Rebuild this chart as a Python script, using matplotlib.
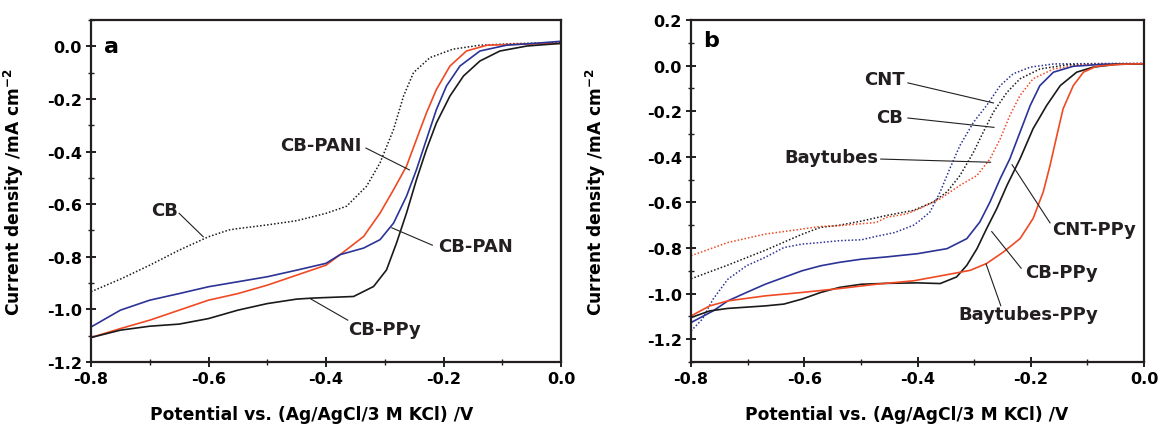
import matplotlib
matplotlib.use("Agg")
import matplotlib.pyplot as plt
from matplotlib.ticker import MultipleLocator, FormatStrFormatter

plt.rcParams["font.family"] = ["DejaVu Sans"]
plt.rcParams["font.weight"] = "bold"
plt.rcParams["mathtext.fontset"] = "dejavusans"
plt.rcParams["mathtext.default"] = "bf"

RED  = "#ef4a24"
BLUE = "#2b3396"
BLK  = "#1a1a1a"

# ── panel a ────────────────────────────────────────────────────────────────────
a_cb_x = [-0.80, -0.748, -0.70, -0.65, -0.60, -0.565, -0.55, -0.50, -0.478, -0.45,
          -0.40, -0.365, -0.331, -0.308, -0.285, -0.268, -0.251, -0.223, -0.184,
          -0.138, -0.08, 0.0]
a_cb_y = [-0.933, -0.883, -0.832, -0.775, -0.724, -0.698, -0.693, -0.679, -0.672,
          -0.663, -0.635, -0.608, -0.532, -0.443, -0.316, -0.189, -0.100, -0.043,
          -0.011, 0.004, 0.010, 0.014]

a_pani_x = [-0.80, -0.75, -0.70, -0.65, -0.60, -0.55, -0.50, -0.45, -0.40, -0.376,
            -0.336, -0.308, -0.285, -0.263, -0.246, -0.229, -0.212, -0.189, -0.161,
            -0.126, -0.07, 0.0]
a_pani_y = [-1.107, -1.073, -1.041, -1.003, -0.965, -0.940, -0.908, -0.870, -0.832,
            -0.792, -0.723, -0.634, -0.545, -0.456, -0.354, -0.253, -0.164, -0.075,
            -0.018, 0.004, 0.008, 0.011]

a_pan_x = [-0.80, -0.75, -0.70, -0.65, -0.60, -0.55, -0.50, -0.45, -0.40, -0.376,
           -0.336, -0.308, -0.285, -0.263, -0.246, -0.229, -0.212, -0.195, -0.172,
           -0.138, -0.093, -0.04, 0.0]
a_pan_y = [-1.067, -1.003, -0.965, -0.940, -0.914, -0.895, -0.876, -0.851, -0.825,
           -0.792, -0.767, -0.735, -0.672, -0.570, -0.469, -0.354, -0.240, -0.151,
           -0.075, -0.018, 0.004, 0.012, 0.019]

a_ppy_x = [-0.80, -0.75, -0.70, -0.65, -0.60, -0.55, -0.50, -0.45, -0.422, -0.353,
           -0.319, -0.297, -0.280, -0.263, -0.246, -0.229, -0.212, -0.189, -0.166,
           -0.138, -0.104, -0.058, 0.0]
a_ppy_y = [-1.107, -1.079, -1.064, -1.056, -1.035, -1.003, -0.978, -0.961, -0.957,
           -0.951, -0.913, -0.850, -0.748, -0.634, -0.507, -0.392, -0.291, -0.189,
           -0.113, -0.056, -0.018, 0.001, 0.011]

# ── panel b ────────────────────────────────────────────────────────────────────
b_cnt_x = [-0.80, -0.78, -0.761, -0.735, -0.702, -0.669, -0.636, -0.604, -0.571,
           -0.538, -0.499, -0.473, -0.44, -0.407, -0.396, -0.378, -0.36, -0.343,
           -0.325, -0.301, -0.278, -0.254, -0.231, -0.201, -0.16, -0.08, 0.0]
b_cnt_y = [-1.164, -1.112, -1.024, -0.937, -0.878, -0.841, -0.798, -0.783, -0.776,
           -0.768, -0.764, -0.749, -0.732, -0.700, -0.680, -0.642, -0.554, -0.452,
           -0.350, -0.248, -0.175, -0.088, -0.036, -0.007, 0.007, 0.009, 0.010]

b_cb_x = [-0.80, -0.735, -0.669, -0.604, -0.572, -0.538, -0.499, -0.454, -0.407,
          -0.372, -0.348, -0.325, -0.301, -0.284, -0.266, -0.242, -0.219, -0.184,
          -0.137, -0.07, 0.0]
b_cb_y = [-0.935, -0.875, -0.810, -0.740, -0.710, -0.700, -0.682, -0.657, -0.635,
          -0.598, -0.554, -0.482, -0.379, -0.292, -0.204, -0.117, -0.058, -0.015,
          0.003, 0.007, 0.008]

b_bay_x = [-0.80, -0.735, -0.669, -0.604, -0.572, -0.538, -0.473, -0.454, -0.42,
           -0.396, -0.36, -0.325, -0.295, -0.272, -0.254, -0.237, -0.219, -0.196,
           -0.16, -0.113, -0.06, 0.0]
b_bay_y = [-0.834, -0.776, -0.739, -0.717, -0.706, -0.702, -0.688, -0.665, -0.651,
           -0.627, -0.584, -0.525, -0.482, -0.409, -0.321, -0.219, -0.131, -0.058,
           -0.015, 0.003, 0.007, 0.009]

b_cntppy_x = [-0.80, -0.761, -0.735, -0.702, -0.669, -0.636, -0.604, -0.571, -0.538,
              -0.499, -0.454, -0.40, -0.348, -0.313, -0.29, -0.272, -0.254, -0.237,
              -0.219, -0.201, -0.184, -0.16, -0.125, -0.07, 0.0]
b_cntppy_y = [-1.127, -1.076, -1.032, -0.995, -0.959, -0.929, -0.900, -0.878, -0.863,
              -0.849, -0.839, -0.825, -0.803, -0.759, -0.686, -0.598, -0.496, -0.409,
              -0.292, -0.175, -0.088, -0.029, -0.003, 0.006, 0.008]

b_cbppy_x = [-0.80, -0.767, -0.735, -0.669, -0.636, -0.604, -0.571, -0.538, -0.499,
             -0.454, -0.40, -0.36, -0.331, -0.313, -0.295, -0.278, -0.26, -0.242,
             -0.219, -0.196, -0.172, -0.148, -0.119, -0.09, -0.05, 0.0]
b_cbppy_y = [-1.105, -1.076, -1.065, -1.054, -1.046, -1.024, -0.995, -0.973, -0.959,
             -0.955, -0.953, -0.956, -0.927, -0.876, -0.803, -0.715, -0.627, -0.525,
             -0.409, -0.277, -0.175, -0.088, -0.029, -0.007, 0.005, 0.008]

b_bayppy_x = [-0.80, -0.767, -0.735, -0.669, -0.604, -0.538, -0.473, -0.407, -0.337,
              -0.307, -0.278, -0.248, -0.219, -0.196, -0.178, -0.166, -0.154, -0.143,
              -0.125, -0.107, -0.084, -0.04, 0.0]
b_bayppy_y = [-1.098, -1.054, -1.032, -1.010, -0.995, -0.978, -0.959, -0.944, -0.912,
              -0.898, -0.868, -0.817, -0.759, -0.671, -0.554, -0.438, -0.307, -0.190,
              -0.088, -0.029, -0.003, 0.006, 0.008]

XLABEL = "Potential vs. (Ag/AgCl/3 M KCl) /V"
YLABEL = r"Current density /mA cm$^{-2}$"

LBL = dict(fontsize=13, fontweight="bold", color="#231f20", ha="center", va="center")
LEAD = dict(color="#231f20", lw=0.8)


def _style(ax, ylim, ymaj):
    ax.set_xlim(-0.8, 0.0)
    ax.set_ylim(*ylim)
    ax.xaxis.set_major_locator(MultipleLocator(0.2))
    ax.xaxis.set_minor_locator(MultipleLocator(0.1))
    ax.yaxis.set_major_locator(MultipleLocator(ymaj))
    ax.yaxis.set_minor_locator(MultipleLocator(ymaj / 2))
    ax.xaxis.set_major_formatter(FormatStrFormatter("%.1f"))
    ax.yaxis.set_major_formatter(FormatStrFormatter("%.1f"))
    ax.tick_params(which="major", direction="inout", length=7, width=1.4,
                   labelsize=11.5, pad=3, color="#231f20")
    ax.tick_params(which="minor", direction="inout", length=4, width=1.0,
                   color="#231f20")
    for lab in ax.get_xticklabels() + ax.get_yticklabels():
        lab.set_fontweight("bold")
    for s in ax.spines.values():
        s.set_linewidth(1.6)
        s.set_color("#231f20")
    ax.set_xlabel(XLABEL, fontsize=12.3, fontweight="bold")
    ax.set_ylabel(YLABEL, fontsize=12.3, fontweight="bold")


def _note(ax, text, tx, ty, x0, y0, x1, y1):
    ax.plot([x0, x1], [y0, y1], **LEAD)
    ax.text(tx, ty, text, **LBL)


fig = plt.figure(figsize=(11.61, 4.27), dpi=100)
ax1 = fig.add_axes([0.0784, 0.1499, 0.4048, 0.801])
ax2 = fig.add_axes([0.5952, 0.1499, 0.3902, 0.801])

# panel a
ax1.plot(a_cb_x, a_cb_y, color=BLK, lw=1.1, ls=(0, (1, 1.3)))
ax1.plot(a_pani_x, a_pani_y, color=RED, lw=1.2)
ax1.plot(a_pan_x, a_pan_y, color=BLUE, lw=1.2)
ax1.plot(a_ppy_x, a_ppy_y, color=BLK, lw=1.2)
_style(ax1, (-1.2, 0.1), 0.2)
ax1.yaxis.set_label_coords(-0.138, 0.5)
ax1.xaxis.set_label_coords(0.47, -0.125)
ax1.text(-0.765, 0.0, "a", fontsize=16, fontweight="bold", ha="center", va="center")
_note(ax1, "CB", -0.675, -0.622, -0.650, -0.635, -0.609, -0.724)
_note(ax1, "CB-PANI", -0.408, -0.377, -0.332, -0.387, -0.258, -0.470)
_note(ax1, "CB-PAN", -0.146, -0.758, -0.219, -0.756, -0.288, -0.690)
_note(ax1, "CB-PPy", -0.300, -1.073, -0.363, -1.041, -0.427, -0.959)

# panel b
ax2.plot(b_cnt_x, b_cnt_y, color=BLUE, lw=1.1, ls=(0, (1, 1.3)))
ax2.plot(b_cb_x, b_cb_y, color=BLK, lw=1.1, ls=(0, (1, 1.3)))
ax2.plot(b_bay_x, b_bay_y, color=RED, lw=1.1, ls=(0, (1, 1.3)))
ax2.plot(b_cntppy_x, b_cntppy_y, color=BLUE, lw=1.2)
ax2.plot(b_cbppy_x, b_cbppy_y, color=BLK, lw=1.2)
ax2.plot(b_bayppy_x, b_bayppy_y, color=RED, lw=1.2)
_style(ax2, (-1.3, 0.2), 0.2)
ax2.yaxis.set_label_coords(-0.183, 0.5)
ax2.xaxis.set_label_coords(0.477, -0.125)
ax2.text(-0.764, 0.11, "b", fontsize=16, fontweight="bold", ha="center", va="center")
_note(ax2, "CNT", -0.458, -0.061, -0.417, -0.076, -0.266, -0.164)
_note(ax2, "CB", -0.450, -0.227, -0.417, -0.230, -0.265, -0.271)
_note(ax2, "Baytubes", -0.552, -0.400, -0.465, -0.410, -0.271, -0.424)
_note(ax2, "CNT-PPy", -0.089, -0.717, -0.166, -0.690, -0.233, -0.435)
_note(ax2, "CB-PPy", -0.146, -0.904, -0.217, -0.889, -0.269, -0.728)
_note(ax2, "Baytubes-PPy", -0.205, -1.090, -0.253, -1.053, -0.279, -0.870)

fig.savefig("out.png", dpi=100)
